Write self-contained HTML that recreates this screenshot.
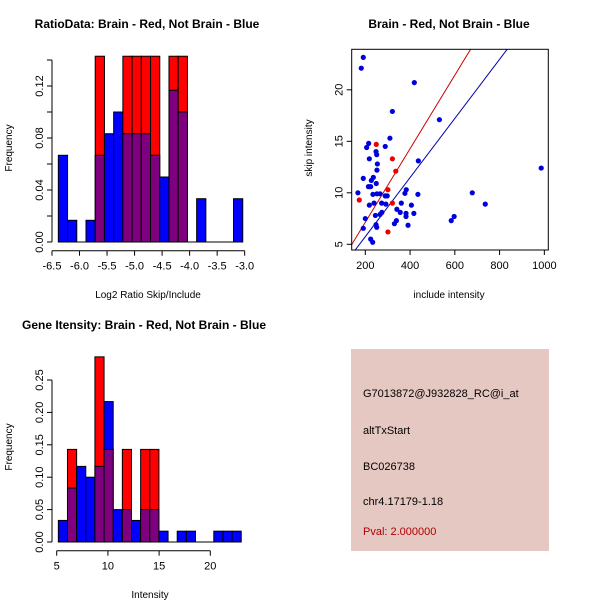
<!DOCTYPE html>
<html><head><meta charset="utf-8"><style>
body{margin:0;background:#fff}
svg{display:block;font-family:"Liberation Sans",Arial,sans-serif}
</style></head><body>
<svg id="c" width="600" height="600" xmlns="http://www.w3.org/2000/svg">
<rect x="0" y="0" width="600" height="600" fill="#fff"/>
<text x="147" y="28" font-size="12" font-weight="bold" text-anchor="middle">RatioData: Brain - Red, Not Brain - Blue</text>
<text x="449" y="28" font-size="12" font-weight="bold" text-anchor="middle">Brain - Red, Not Brain - Blue</text>
<text x="144" y="329" font-size="12" font-weight="bold" text-anchor="middle">Gene Itensity: Brain - Red, Not Brain - Blue</text>
<text x="148" y="298" font-size="10" text-anchor="middle">Log2 Ratio Skip/Include</text>
<text transform="translate(12,148) rotate(-90)" font-size="10" text-anchor="middle">Frequency</text>
<text x="449" y="298" font-size="10" text-anchor="middle">include intensity</text>
<text transform="translate(312,148) rotate(-90)" font-size="10" text-anchor="middle">skip intensity</text>
<text x="150" y="598" font-size="10" text-anchor="middle">Intensity</text>
<text transform="translate(12,447) rotate(-90)" font-size="10" text-anchor="middle">Frequency</text>
<g>
<rect x="351" y="349" width="198" height="202" fill="#E6C8C2"/>
<text x="363" y="397" font-size="11">G7013872@J932828_RC@i_at</text>
<text x="363" y="434" font-size="11">altTxStart</text>
<text x="363" y="470" font-size="11">BC026738</text>
<text x="363" y="505" font-size="11">chr4.17179-1.18</text>
<text x="363" y="535" font-size="11" fill="#B00000">Pval: 2.000000</text>
</g>
</svg>
<script>
// Ratio histogram data
const ratioBinStart = -6.385, ratioBinWidth = 0.1675;
const ratioBlue = [0.0667,0.0167,0,0.0167,0.0667,0.0833,0.1,0.0833,0.0833,0.0833,0.0667,0.05,0.1167,0.1,0,0.0333,0,0,0,0.0333];
const ratioRed  = [0,0,0,0,0.1429,0,0,0.1429,0.1429,0.1429,0.1429,0,0.1429,0.1429,0,0,0,0,0,0];
const ratioXTicks = [-6.5,-6.0,-5.5,-5.0,-4.5,-4.0,-3.5,-3.0];
const ratioYTicks = [0,0.02,0.04,0.06,0.08,0.10,0.12,0.14];
const ratioYLabels = ["0.00","","0.04","","0.08","","0.12",""];
// Intensity histogram data
const intBinStart = 5.16, intBinWidth = 0.893;
const intBlue = [0.0333,0.0833,0.1167,0.1,0.1167,0.2167,0.05,0.05,0.0333,0.05,0.05,0.0167,0,0.0167,0.0167,0,0,0.0167,0.0167,0.0167];
const intRed  = [0,0.1429,0,0,0.2857,0.1429,0,0.1429,0,0.1429,0.1429,0,0,0,0,0,0,0,0,0];
const intXTicks = [5,10,15,20];
const intYTicks = [0,0.05,0.10,0.15,0.20,0.25];
// Scatter data
const blueX = [191,182,419,321,531,310,215,206,289,248,251,218,437,254,252,191,236,227,249,214,224,167,678,252,266,234,289,298,377,383,435,239,218,273,292,361,406,736,341,356,382,417,274,266,245,382,200,597,584,339,330,248,251,391,191,224,233,986];
const blueY = [23.15,22.1,20.7,17.9,17.1,15.3,14.8,14.4,14.5,14.0,13.7,13.3,13.1,12.8,12.2,11.4,11.5,11.2,10.9,10.6,10.6,10.0,10.0,9.9,9.9,9.85,9.7,9.7,9.95,10.3,9.85,9.0,8.8,9.0,8.9,9.0,8.8,8.9,8.4,8.1,8.0,8.0,8.1,7.9,7.8,7.7,7.5,7.7,7.3,7.3,7.0,6.9,6.65,6.85,6.55,5.5,5.2,12.4];
const redX = [249,321,336,301,173,321,301];
const redY = [14.7,13.3,12.1,10.3,9.3,9.0,6.2];
const redSlope = 0.0357, blueSlope = 0.0287;
const scXTicks = [200,400,600,800,1000];
const scYTicks = [5,10,15,20];

const svg = document.getElementById('c');
const NS = 'http://www.w3.org/2000/svg';
function mk(tag, attrs, parent){
  const e = document.createElementNS(NS, tag);
  for (const k in attrs) e.setAttribute(k, attrs[k]);
  (parent||svg).appendChild(e);
  return e;
}
const PURPLE = '#7F007F';

function histogram(name, blue, red, start, width, sx, sy, baseY, xTicks, yTicks, yLabels, axisX, xAxisY){
  const g = mk('g', {});
  
  
  for (let i = 0; i < blue.length; i++){
    const x0 = sx(start + i*width), x1 = sx(start + (i+1)*width);
    const b = blue[i], r = red[i];
    const lo = Math.min(b, r), hi = Math.max(b, r);
    if (hi > 0){
      const topColor = r > b ? '#FF0000' : '#0000FF';
      const rt = mk('rect', {x:x0, y:sy(hi), width:x1-x0, height:sy(0)-sy(hi), fill: topColor, stroke:'#000', 'stroke-width':1}, g);
      
      
    }
    if (lo > 0){
      const rp = mk('rect', {x:x0, y:sy(lo), width:x1-x0, height:sy(0)-sy(lo), fill: PURPLE, stroke:'#000', 'stroke-width':1}, g);
      
      
    }
  }
  // baseline
  mk('line', {x1:sx(start), x2:sx(start+blue.length*width), y1:sy(0), y2:sy(0), stroke:'#000'}, g);
  // x axis
  const xa = mk('g', {}, g);
  
  
  mk('line', {x1:sx(xTicks[0]), x2:sx(xTicks[xTicks.length-1]), y1:xAxisY, y2:xAxisY, stroke:'#000'}, xa);
  xTicks.forEach(t => {
    mk('line', {x1:sx(t), x2:sx(t), y1:xAxisY, y2:xAxisY+5, stroke:'#000'}, xa);
    const tx = mk('text', {x:sx(t), y:xAxisY+19, 'font-size':11, 'text-anchor':'middle'}, xa);
    tx.textContent = Number.isInteger(t) && Math.abs(t) >= 5 && !String(t).includes('.') && xTicks.every(Number.isInteger) ? String(t) : t.toFixed(1);
  });
  // y axis
  const ya = mk('g', {}, g);
  
  
  mk('line', {x1:axisX, x2:axisX, y1:sy(yTicks[0]), y2:sy(yTicks[yTicks.length-1]), stroke:'#000'}, ya);
  yTicks.forEach((t, i) => {
    mk('line', {x1:axisX-5, x2:axisX, y1:sy(t), y2:sy(t), stroke:'#000'}, ya);
    if (yLabels[i]){
      const tx = mk('text', {'font-size':11, 'text-anchor':'middle', transform:`translate(${axisX-9},${sy(t)}) rotate(-90)`}, ya);
      tx.textContent = yLabels[i];
    }
  });
}

// Ratio histogram
histogram('ratio-histogram', ratioBlue, ratioRed, ratioBinStart, ratioBinWidth,
  v => 52 + (v + 6.5) * 55.05, v => 242 - v * 1300, 242,
  ratioXTicks, ratioYTicks, ratioYLabels, 52, 250.7);

// Intensity histogram
histogram('intensity-histogram', intBlue, intRed, intBinStart, intBinWidth,
  v => 56.7 + (v - 5) * 10.24, v => 542 - v * 648, 542,
  intXTicks, intYTicks, intYTicks.map(t => t.toFixed(2)), 52, 550.7);

// Scatter
(function(){
  const sx = v => 365.3 + (v - 200) * 0.2238;
  const sy = v => 244.3 - (v - 5) * 10.3;
  const L = 351.7, R = 548.3, T = 49.3, B = 250;
  const g = mk('g', {});
  
  
  mk('clipPath', {id:'scclip'}, g).appendChild(Object.assign(document.createElementNS(NS,'rect'), {}));
  const cr = document.querySelector('#scclip rect');
  cr.setAttribute('x', L); cr.setAttribute('y', T); cr.setAttribute('width', R-L); cr.setAttribute('height', B-T);
  const inner = mk('g', {'clip-path':'url(#scclip)'}, g);
  const x0 = 100, x1 = 1100;
  const rl = mk('line', {x1:sx(x0), y1:sy(redSlope*x0), x2:sx(x1), y2:sy(redSlope*x1), stroke:'#CC0000', 'stroke-width':1}, inner);
  
  
  const bl = mk('line', {x1:sx(x0), y1:sy(blueSlope*x0), x2:sx(x1), y2:sy(blueSlope*x1), stroke:'#0000AA', 'stroke-width':1}, inner);
  
  
  blueX.forEach((x, i) => {
    const c = mk('circle', {cx:sx(x), cy:sy(blueY[i]), r:2.6, fill:'#0000DD'}, inner);
    
    
  });
  redX.forEach((x, i) => {
    const c = mk('circle', {cx:sx(x), cy:sy(redY[i]), r:2.6, fill:'#EE0000'}, inner);
    
    
  });
  mk('rect', {x:L, y:T, width:R-L, height:B-T, fill:'none', stroke:'#000'}, g);
  const xa = mk('g', {}, g);
  
  
  scXTicks.forEach(t => {
    mk('line', {x1:sx(t), x2:sx(t), y1:B, y2:B+5, stroke:'#000'}, xa);
    const tx = mk('text', {x:sx(t), y:B+19, 'font-size':11, 'text-anchor':'middle'}, xa);
    tx.textContent = String(t);
  });
  const ya = mk('g', {}, g);
  
  
  scYTicks.forEach(t => {
    mk('line', {x1:L-5, x2:L, y1:sy(t), y2:sy(t), stroke:'#000'}, ya);
    const tx = mk('text', {'font-size':11, 'text-anchor':'middle', transform:`translate(${L-9},${sy(t)}) rotate(-90)`}, ya);
    tx.textContent = String(t);
  });
})();
</script>
</body></html>
